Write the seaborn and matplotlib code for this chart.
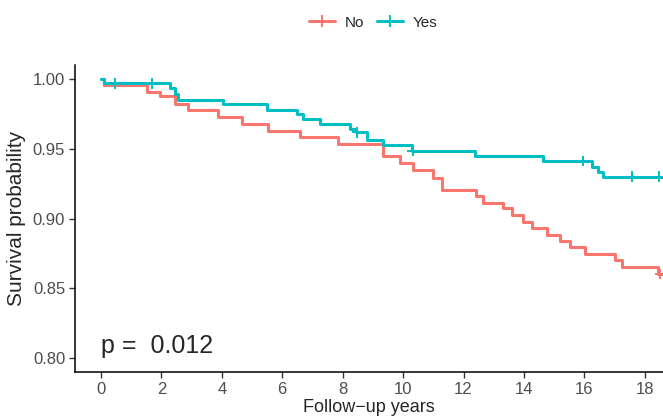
import numpy as np
import pandas as pd
import seaborn as sns
import matplotlib.pyplot as plt
from matplotlib.lines import Line2D

# Kaplan-Meier step values
times_no = [0, 0.1, 1.51, 1.95, 2.45, 2.88, 3.87, 4.66, 5.54, 6.59, 7.86, 9.35, 9.9,
            10.33, 10.99, 11.28, 12.4, 12.65, 13.31, 13.6, 13.97, 14.26, 14.76, 15.2,
            15.53, 16.03, 17.02, 17.24, 18.44, 18.8]
surv_no = [1.0, 0.9958, 0.9906, 0.9875, 0.9823, 0.9781, 0.9729, 0.9677, 0.9625, 0.9583,
           0.9531, 0.9447, 0.9395, 0.9348, 0.9291, 0.9207, 0.916, 0.9113, 0.9072, 0.9025,
           0.8978, 0.8931, 0.8884, 0.8842, 0.8795, 0.8748, 0.8701, 0.8649, 0.8602, 0.8602]

times_yes = [0, 0.1, 2.28, 2.45, 2.55, 4.04, 5.49, 6.48, 6.69, 7.25, 8.25, 8.44, 8.8,
             9.34, 10.29, 12.38, 14.64, 16.25, 16.46, 16.62, 18.8]
surv_yes = [1.0, 0.9969, 0.9932, 0.9896, 0.9849, 0.9823, 0.9778, 0.975, 0.9711, 0.9677,
            0.9645, 0.9619, 0.9562, 0.9526, 0.9486, 0.9447, 0.9412, 0.9367, 0.9336, 0.9301,
            0.9301]

# censoring marks
cens_no = [18.5]
cens_yes = [0.46, 1.68, 8.48, 10.32, 15.95, 17.57, 18.48]

groups = ["No", "Yes"]
colors = {"No": "#F8766D", "Yes": "#00BFC4"}
pval_text = "p =  0.012"

curves = pd.concat([
    pd.DataFrame({"time": times_no, "surv": surv_no, "group": "No"}),
    pd.DataFrame({"time": times_yes, "surv": surv_yes, "group": "Yes"}),
], ignore_index=True)


def surv_at(t, times, surv):
    i = np.searchsorted(times, t, side="right") - 1
    return surv[i]


censors = pd.concat([
    pd.DataFrame({"time": cens_no, "surv": [surv_at(t, times_no, surv_no) for t in cens_no], "group": "No"}),
    pd.DataFrame({"time": cens_yes, "surv": [surv_at(t, times_yes, surv_yes) for t in cens_yes], "group": "Yes"}),
], ignore_index=True)

sns.set_style("ticks")
plt.rcParams['font.family'] = ['Liberation Sans', 'DejaVu Sans']

fig = plt.figure(figsize=(6.63, 4.17), dpi=100)
ax = fig.add_axes([0.113, 0.108, 0.887, 0.736])

sns.lineplot(data=curves, x="time", y="surv", hue="group", palette=colors,
             drawstyle="steps-post", linewidth=2.2, legend=False, ax=ax)
sns.scatterplot(data=censors, x="time", y="surv", hue="group", palette=colors,
                marker="+", s=60, linewidth=1.4, legend=False, ax=ax, zorder=3)

ax.set_xlim(-0.86, 18.6)
ax.set_ylim(0.79, 1.01)
ax.set_xticks(range(0, 19, 2))
ax.set_yticks([0.80, 0.85, 0.90, 0.95, 1.00])
ax.set_yticklabels(["0.80", "0.85", "0.90", "0.95", "1.00"])
ax.tick_params(axis="both", labelsize=12, labelcolor="#4D4D4D", color="#333333",
               length=4, width=1, pad=3)
for side in ["left", "bottom"]:
    ax.spines[side].set_linewidth(1.1)
    ax.spines[side].set_color("black")
sns.despine(ax=ax)

ax.set_xlabel("Follow\u2212up years", fontsize=13, labelpad=2)
ax.set_ylabel("Survival probability", fontsize=15, labelpad=5)

ax.text(0, 0.8085, pval_text, fontsize=18, va="center", ha="left")

handles = [Line2D([0], [0], color=colors[g], lw=2.2, marker="+", markersize=9,
                  markeredgewidth=1.4) for g in groups]
fig.legend(handles, groups, loc="center", bbox_to_anchor=(0.563, 0.946), ncol=2,
           frameon=False, fontsize=11, handlelength=1.7, columnspacing=0.9,
           handletextpad=0.6)

fig.savefig("out.png", dpi=100)
